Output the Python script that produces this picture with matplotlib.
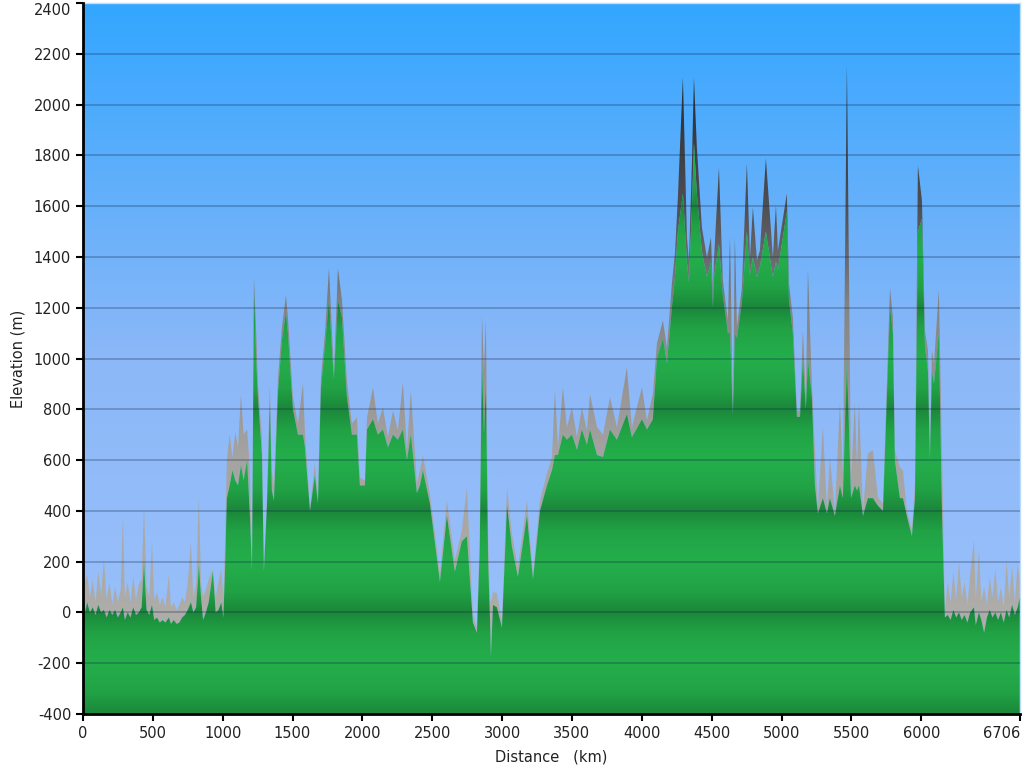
import matplotlib
matplotlib.use('Agg')
import matplotlib.pyplot as plt
import numpy as np
from matplotlib.colors import LinearSegmentedColormap

plt.rcParams['axes.unicode_minus'] = False

# distance along the route (km), upper envelope (grey top) and green profile (m)
km = [0, 15, 30, 50, 70, 90, 110, 130, 150, 170, 190, 210, 230, 250, 270, 286, 300, 320, 340, 360,
      380, 400, 420, 437, 455, 475, 494, 510, 530, 550, 570, 590, 615, 630, 650, 670, 690, 710, 730, 750,
      773, 790, 810, 830, 845, 860, 880, 900, 930, 950, 970, 990, 1005, 1016, 1030, 1050, 1070, 1090, 1110, 1131,
      1150, 1175, 1195, 1210, 1224, 1240, 1252, 1281, 1295, 1317, 1338, 1352, 1367, 1396, 1424, 1453, 1467, 1503, 1539, 1575,
      1589, 1625, 1660, 1682, 1703, 1732, 1761, 1796, 1825, 1854, 1889, 1925, 1961, 1982, 2018, 2033, 2076, 2111, 2147, 2183,
      2219, 2254, 2290, 2319, 2347, 2390, 2412, 2433, 2483, 2555, 2605, 2662, 2712, 2748, 2791, 2820, 2840, 2856, 2870, 2884,
      2900, 2913, 2920, 2935, 2963, 2999, 3035, 3070, 3113, 3178, 3221, 3271, 3321, 3357, 3378, 3400, 3435, 3464, 3500, 3536,
      3571, 3607, 3629, 3679, 3722, 3772, 3822, 3893, 3929, 4001, 4037, 4079, 4108, 4151, 4180, 4215, 4237, 4258, 4294, 4323,
      4337, 4359, 4373, 4394, 4430, 4466, 4495, 4509, 4516, 4552, 4580, 4616, 4631, 4652, 4666, 4681, 4716, 4752, 4774, 4795,
      4824, 4845, 4888, 4938, 4960, 4974, 5038, 5053, 5081, 5110, 5132, 5153, 5174, 5189, 5217, 5239, 5260, 5296, 5325, 5346,
      5382, 5418, 5439, 5468, 5497, 5525, 5540, 5554, 5583, 5618, 5654, 5690, 5726, 5754, 5776, 5797, 5811, 5847, 5869, 5897,
      5933, 5955, 5976, 6005, 6026, 6048, 6062, 6076, 6091, 6126, 6148, 6169, 6190, 6210, 6230, 6250, 6270, 6290, 6310, 6330,
      6350, 6377, 6390, 6413, 6430, 6450, 6470, 6490, 6510, 6530, 6550, 6570, 6590, 6610, 6630, 6650, 6670, 6690, 6706]

elev_max = [170, 120, 150, 60, 130, 40, 160, 70, 210, 50, 120, 30, 100, 40, 90, 375, 60, 120, 40, 140,
            50, 110, 130, 420, 100, 60, 280, 50, 80, 30, 60, 20, 150, 20, 40, 10, 30, 60, 40, 120,
            275, 60, 110, 457, 120, 60, 90, 130, 170, 60, 120, 170, 60, 250, 600, 700, 610, 710, 650, 858,
            700, 720, 560, 200, 1315, 1100, 900, 690, 170, 453, 894, 560, 492, 925, 1122, 1248, 1162, 847, 744, 902,
            705, 413, 587, 453, 925, 1098, 1354, 941, 1354, 1229, 914, 744, 768, 532, 520, 768, 886, 744, 807, 690,
            795, 717, 906, 638, 874, 508, 560, 618, 469, 154, 441, 205, 323, 492, -4, -59, 300, 1170, 950, 1150,
            300, 47, 40, 80, 75, -31, 492, 311, 177, 441, 154, 441, 547, 612, 874, 650, 886, 729, 807, 690,
            807, 717, 860, 730, 700, 847, 729, 965, 729, 886, 756, 862, 1059, 1150, 1043, 1295, 1414, 1634, 2107, 1477,
            1386, 1780, 2107, 1831, 1516, 1398, 1477, 1256, 1386, 1752, 1307, 1150, 1477, 807, 1477, 1122, 1280, 1768, 1398, 1595,
            1386, 1425, 1788, 1398, 1603, 1425, 1650, 1295, 1162, 795, 795, 1110, 847, 1347, 902, 638, 413, 729, 413, 610,
            402, 823, 547, 2154, 532, 823, 571, 823, 402, 626, 638, 453, 429, 902, 1276, 1162, 638, 571, 559, 402,
            323, 508, 1760, 1622, 1110, 1032, 638, 1032, 980, 1268, 638, 8, 120, 40, 160, 50, 200, 60, 120, 30,
            150, 283, 50, 247, 40, 100, 30, 140, 60, 170, 40, 100, 20, 200, 60, 180, 40, 193, 120]

elev_min = [60, 0, 40, 0, 20, -10, 30, 0, 10, -20, 10, -10, 10, -20, 0, 20, -30, 0, -20, 20,
            -10, 0, 20, 200, 10, -10, 30, -30, -20, -40, -30, -40, -20, -45, -30, -45, -40, -20, -10, 10,
            40, 0, 20, 190, 60, -30, 0, 40, 160, 0, 10, 40, -20, 150, 450, 500, 560, 520, 500, 580,
            520, 600, 380, 165, 1270, 1000, 850, 620, 160, 420, 820, 480, 440, 870, 1070, 1180, 1100, 800, 700, 700,
            650, 400, 540, 430, 880, 1050, 1230, 920, 1230, 1160, 850, 700, 700, 500, 500, 720, 760, 700, 720, 650,
            700, 680, 720, 600, 700, 470, 500, 560, 430, 120, 380, 160, 280, 300, -40, -80, 250, 1000, 700, 900,
            200, -20, -177, 30, 20, -60, 420, 260, 140, 380, 130, 400, 500, 560, 620, 620, 700, 680, 700, 640,
            720, 660, 720, 620, 612, 720, 680, 780, 690, 760, 720, 760, 1000, 1080, 980, 1200, 1320, 1500, 1650, 1380,
            1300, 1600, 1850, 1650, 1420, 1320, 1380, 1200, 1320, 1450, 1250, 1100, 1100, 780, 1100, 1080, 1220, 1500, 1330, 1400,
            1320, 1360, 1500, 1320, 1380, 1350, 1580, 1230, 1100, 770, 770, 1000, 800, 1000, 850, 500, 390, 450, 390, 450,
            380, 500, 450, 1000, 450, 500, 480, 500, 380, 450, 450, 420, 400, 850, 1200, 1100, 600, 450, 450, 380,
            300, 450, 1500, 1550, 1050, 950, 600, 950, 900, 1100, 400, -20, -10, -30, 10, -20, 0, -30, -10, -40,
            0, 20, -50, 0, -30, -80, -20, 10, -20, 0, -30, 0, -40, 10, -20, 30, -10, 20, 60]

x_ticks = [0, 500, 1000, 1500, 2000, 2500, 3000, 3500, 4000, 4500, 5000, 5500, 6000, 6706]
y_ticks = list(range(-400, 2401, 200))

x0, x1, y0, y1 = 0, 6706, -400, 2400

fig = plt.figure(figsize=(10.24, 7.68), dpi=100)
ax = fig.add_axes([0.081, 0.0703, 0.915, 0.9258])
ax.set_xlim(x0, x1)
ax.set_ylim(y0, y1)

# sky gradient
yy = np.linspace(y0, y1, 600).reshape(-1, 1)
sky = LinearSegmentedColormap.from_list('sky', ['#9cc2fb', '#8cb8f8', '#33a6ff'])
ax.imshow(yy, extent=[x0, x1, y0, y1], origin='lower', aspect='auto', cmap=sky, zorder=0)

# grey min/max band, darker with height
grey = LinearSegmentedColormap.from_list(
    'grey', [(0.0, '#b4b2ad'), (0.36, '#a6a4a2'), (0.57, '#858585'), (0.71, '#505055'), (0.93, '#202428'), (1.0, '#1a1e22')])
band = ax.fill_between(km, elev_min, elev_max, facecolor='none', linewidth=0)
im = ax.imshow(yy, extent=[x0, x1, y0, y1], origin='lower', aspect='auto', cmap=grey, zorder=1)
im.set_clip_path(band.get_paths()[0], ax.transData)

# green ground with repeating shaded bands
ground = ax.fill_between(km, y0, elev_min, facecolor='none', linewidth=0)
t = np.abs(((yy - y0) % 400) - 200) / 200.0
green = LinearSegmentedColormap.from_list('green', ['#24ad4b', '#21a245', '#1b873a'])
im2 = ax.imshow(t ** 1.3, extent=[x0, x1, y0, y1], origin='lower', aspect='auto', cmap=green, zorder=2)
im2.set_clip_path(ground.get_paths()[0], ax.transData)

for v in y_ticks[1:-1]:
    ax.axhline(v, color='#10284a', alpha=0.32, linewidth=1.2, zorder=4)

ax.set_xticks(x_ticks)
ax.set_yticks(y_ticks)
ax.tick_params(direction='out', length=5, width=1.5, colors='black', labelcolor='#222222', labelsize=10.5)
ax.get_xticklabels()[-1].set_ha('right')
ax.get_yticklabels()[-1].set_va('top')
for s in ['left', 'bottom']:
    ax.spines[s].set_linewidth(2)
    ax.spines[s].set_color('black')
    ax.spines[s].set_zorder(6)
for s in ['top', 'right']:
    ax.spines[s].set_linewidth(1)
    ax.spines[s].set_color('#bcdcff')

ax.set_ylabel('Elevation (m)', fontsize=10.5, color='#222222', labelpad=6)
ax.set_xlabel('Distance   (km)', fontsize=10.5, color='#222222', labelpad=6)

fig.savefig('out.png', dpi=100)
